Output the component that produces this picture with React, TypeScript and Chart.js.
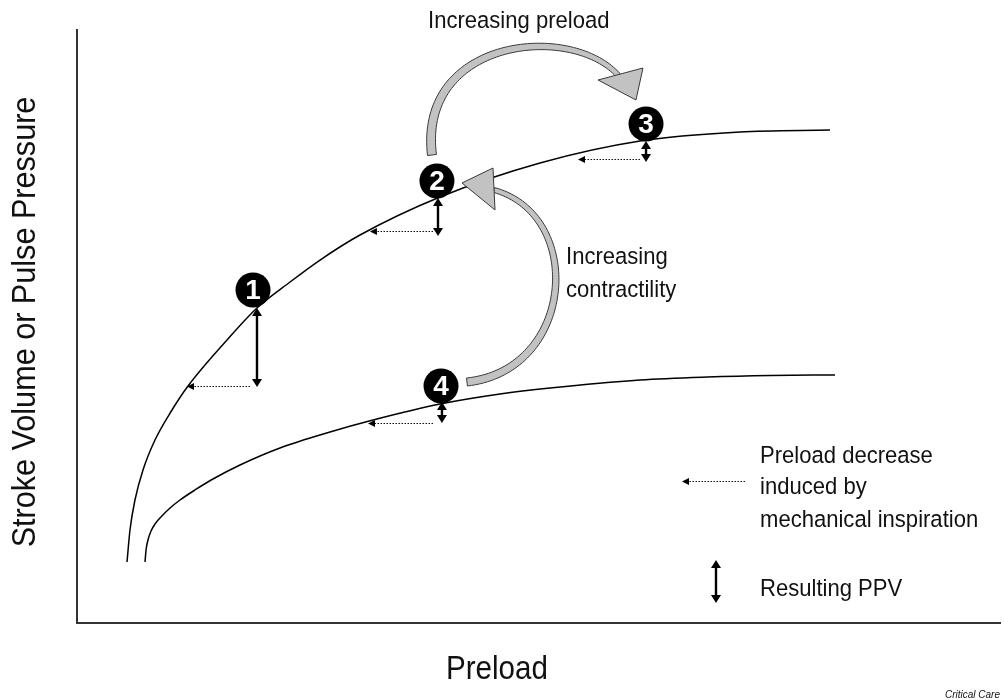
import React, { useEffect, useRef } from 'react';
import { Chart, registerables } from 'chart.js';

Chart.register(...registerables);

// ---- Data (axis units 0..100, no ticks shown) ----
const upperX = [5.42, 5.74, 6.28, 7.15, 8.45, 10.29, 12.03, 16.25, 19.5, 23.08, 26.33, 30.66, 39.33, 50.16, 61.0, 71.83, 81.58];
const upperY = [10.29, 15.68, 20.74, 25.8, 30.86, 35.92, 39.97, 47.72, 53.12, 57.5, 61.21, 65.43, 71.84, 77.57, 81.28, 82.8, 83.14];

const lowerX = [7.37, 7.48, 7.69, 8.02, 8.45, 8.99, 10.08, 11.16, 12.78, 14.73, 17.66, 21.99, 27.41, 32.07, 39.33, 45.83, 51.25, 61.0, 68.26, 75.08, 82.12];
const lowerY = [10.29, 12.31, 14.0, 15.51, 16.69, 17.71, 19.39, 20.74, 22.43, 24.28, 26.64, 29.51, 32.21, 34.23, 36.93, 38.62, 39.63, 40.98, 41.48, 41.74, 41.82];

const stateLabels = ['1', '2', '3', '4'];
const stateX = [19.07, 39.0, 61.65, 39.44];
const stateY = [56.16, 74.54, 84.15, 39.97];

// Resulting PPV (double arrows): x, top, bottom — last one is the legend key
const ppvX = [19.5, 39.11, 61.65, 39.54, 69.23];
const ppvTop = [53.12, 71.67, 81.28, 37.27, 10.62];
const ppvBottom = [39.8, 65.26, 77.74, 33.73, 3.37];

// Preload decrease (dotted arrows): start x, end x, y — last one is the legend key
const decFrom = [18.74, 38.57, 61.0, 38.57, 72.37];
const decTo = [11.92, 31.74, 54.28, 31.53, 65.55];
const decY = [39.97, 66.1, 78.25, 33.73, 23.95];

// Curved gray arrows (cubic bezier control points) and their heads
const preloadArrowX = [38.46, 36.94, 53.41, 58.61];
const preloadArrowY = [78.92, 98.5, 101.3, 92.41];
const preloadHeadX = [56.45, 61.32, 60.56];
const preloadHeadY = [91.57, 93.59, 88.2];

const contrArrowX = [42.25, 53.95, 55.04, 45.18];
const contrArrowY = [40.64, 42.66, 68.8, 73.02];
const contrHeadX = [45.07, 41.71, 45.29];
const contrHeadY = [76.73, 74.2, 69.65];

// Text annotations
const annoText = ['Increasing preload', 'Increasing', 'contractility', 'Preload decrease', 'induced by', 'mechanical inspiration', 'Resulting PPV'];
const annoX = [38.03, 52.98, 52.98, 74.0, 74.0, 74.0, 74.0];
const annoY = [100.34, 60.54, 54.97, 26.98, 21.75, 16.19, 4.55];

const yTitle = 'Stroke Volume or Pulse Pressure';
const xTitle = 'Preload';
const credit = 'Critical Care';

const FONT = '"Liberation Sans", Arial, sans-serif';

function condensedText(ctx: CanvasRenderingContext2D, text: string, x: number, y: number, sx: number) {
  ctx.save();
  ctx.translate(x, y);
  ctx.scale(sx, 1);
  ctx.fillText(text, 0, 0);
  ctx.restore();
}

function drawGrayArrow(ctx: CanvasRenderingContext2D, P: number[][], w0: number, w1: number, head: number[][]) {
  const N = 80;
  const left: number[][] = [];
  const right: number[][] = [];
  for (let i = 0; i <= N; i++) {
    const t = i / N;
    const u = 1 - t;
    const bx = u * u * u * P[0][0] + 3 * u * u * t * P[1][0] + 3 * u * t * t * P[2][0] + t * t * t * P[3][0];
    const by = u * u * u * P[0][1] + 3 * u * u * t * P[1][1] + 3 * u * t * t * P[2][1] + t * t * t * P[3][1];
    const dx = 3 * u * u * (P[1][0] - P[0][0]) + 6 * u * t * (P[2][0] - P[1][0]) + 3 * t * t * (P[3][0] - P[2][0]);
    const dy = 3 * u * u * (P[1][1] - P[0][1]) + 6 * u * t * (P[2][1] - P[1][1]) + 3 * t * t * (P[3][1] - P[2][1]);
    const len = Math.hypot(dx, dy) || 1;
    const nx = -dy / len;
    const ny = dx / len;
    const w = (w0 + (w1 - w0) * t) / 2;
    left.push([bx + nx * w, by + ny * w]);
    right.push([bx - nx * w, by - ny * w]);
  }
  ctx.save();
  ctx.beginPath();
  ctx.moveTo(left[0][0], left[0][1]);
  for (const p of left) ctx.lineTo(p[0], p[1]);
  for (let i = right.length - 1; i >= 0; i--) ctx.lineTo(right[i][0], right[i][1]);
  ctx.closePath();
  ctx.fillStyle = '#c2c2c2';
  ctx.fill();
  ctx.strokeStyle = '#3a3a3a';
  ctx.lineWidth = 1;
  ctx.stroke();
  ctx.beginPath();
  ctx.moveTo(head[0][0], head[0][1]);
  ctx.lineTo(head[1][0], head[1][1]);
  ctx.lineTo(head[2][0], head[2][1]);
  ctx.closePath();
  ctx.fillStyle = '#c2c2c2';
  ctx.fill();
  ctx.strokeStyle = '#3a3a3a';
  ctx.stroke();
  ctx.restore();
}

const overlayPlugin = {
  id: 'overlay',
  afterDatasetsDraw(chart: any) {
    const ctx: CanvasRenderingContext2D = chart.ctx;
    const xs = chart.scales.x;
    const ys = chart.scales.y;
    const X = (v: number) => xs.getPixelForValue(v);
    const Y = (v: number) => ys.getPixelForValue(v);

    ctx.save();

    // curved gray arrows
    drawGrayArrow(
      ctx,
      preloadArrowX.map((v, i) => [X(v), Y(preloadArrowY[i])]),
      9, 5,
      preloadHeadX.map((v, i) => [X(v), Y(preloadHeadY[i])])
    );
    drawGrayArrow(
      ctx,
      contrArrowX.map((v, i) => [X(v), Y(contrArrowY[i])]),
      8, 5,
      contrHeadX.map((v, i) => [X(v), Y(contrHeadY[i])])
    );

    // dotted preload-decrease arrows
    decFrom.forEach((xf, i) => {
      const x1 = X(xf);
      const x2 = X(decTo[i]);
      const y = Math.round(Y(decY[i])) + 0.5;
      const head = 7;
      ctx.save();
      ctx.strokeStyle = '#111';
      ctx.lineWidth = 1.2;
      ctx.setLineDash([1.5, 1.5]);
      ctx.beginPath();
      ctx.moveTo(x1, y);
      ctx.lineTo(x2 + head, y);
      ctx.stroke();
      ctx.setLineDash([]);
      ctx.fillStyle = '#000';
      ctx.beginPath();
      ctx.moveTo(x2, y);
      ctx.lineTo(x2 + head, y - 3.5);
      ctx.lineTo(x2 + head, y + 3.5);
      ctx.closePath();
      ctx.fill();
      ctx.restore();
    });

    // double vertical PPV arrows
    ppvX.forEach((xv, i) => {
      const x = X(xv);
      const y1 = Y(ppvTop[i]);
      const y2 = Y(ppvBottom[i]);
      const head = 8;
      const hw = 5;
      ctx.save();
      ctx.strokeStyle = '#000';
      ctx.fillStyle = '#000';
      ctx.lineWidth = 2.4;
      ctx.beginPath();
      ctx.moveTo(x, y1 + head - 1);
      ctx.lineTo(x, y2 - head + 1);
      ctx.stroke();
      ctx.beginPath();
      ctx.moveTo(x, y1);
      ctx.lineTo(x - hw, y1 + head);
      ctx.lineTo(x + hw, y1 + head);
      ctx.closePath();
      ctx.fill();
      ctx.beginPath();
      ctx.moveTo(x, y2);
      ctx.lineTo(x - hw, y2 - head);
      ctx.lineTo(x + hw, y2 - head);
      ctx.closePath();
      ctx.fill();
      ctx.restore();
    });

    // numbers inside state circles
    ctx.fillStyle = '#ffffff';
    ctx.font = 'bold 28px ' + FONT;
    ctx.textAlign = 'center';
    ctx.textBaseline = 'middle';
    stateLabels.forEach((s, i) => {
      ctx.fillText(s, X(stateX[i]), Y(stateY[i]) + 1);
    });

    // annotation texts
    ctx.fillStyle = '#111';
    ctx.font = '24.5px ' + FONT;
    ctx.textAlign = 'left';
    ctx.textBaseline = 'alphabetic';
    annoText.forEach((t, i) => {
      condensedText(ctx, t, X(annoX[i]), Y(annoY[i]), 0.9);
    });

    // axis titles
    const area = chart.chartArea;
    ctx.font = '34px ' + FONT;
    ctx.textAlign = 'center';
    ctx.save();
    ctx.translate(area.left - 42, (area.top + area.bottom) / 2 - 4.5);
    ctx.rotate(-Math.PI / 2);
    condensedText(ctx, yTitle, 0, 0, 0.9);
    ctx.restore();
    condensedText(ctx, xTitle, area.left + 420, area.bottom + 56, 0.87);

    ctx.font = 'italic 10px ' + FONT;
    ctx.textAlign = 'right';
    ctx.fillText(credit, chart.width - 4, chart.height - 2);

    ctx.restore();
  },
};

export default function App() {
  const canvasRef = useRef<HTMLCanvasElement | null>(null);

  useEffect(() => {
    const canvas = canvasRef.current;
    if (!canvas) return;
    const chart = new Chart(canvas, {
      type: 'scatter',
      data: {
        datasets: [
          {
            label: 'Normal contractility',
            data: upperX.map((x, i) => ({ x, y: upperY[i] })),
            showLine: true,
            borderColor: '#000',
            borderWidth: 1.5,
            pointRadius: 0,
            cubicInterpolationMode: 'monotone',
            fill: false,
          },
          {
            label: 'Reduced contractility',
            data: lowerX.map((x, i) => ({ x, y: lowerY[i] })),
            showLine: true,
            borderColor: '#000',
            borderWidth: 1.5,
            pointRadius: 0,
            cubicInterpolationMode: 'monotone',
            fill: false,
          },
          {
            label: 'States',
            data: stateX.map((x, i) => ({ x, y: stateY[i] })),
            showLine: false,
            pointRadius: 17.5,
            pointBackgroundColor: '#000',
            pointBorderColor: '#000',
            pointBorderWidth: 0,
          },
        ],
      },
      options: {
        animation: false,
        responsive: false,
        maintainAspectRatio: false,
        layout: { autoPadding: false, padding: { left: 77, top: 30, right: 4, bottom: 77 } },
        plugins: {
          legend: { display: false },
          tooltip: { enabled: false },
          title: { display: false },
        },
        scales: {
          x: {
            type: 'linear',
            min: 0,
            max: 100,
            ticks: { display: false },
            grid: { display: false, drawTicks: false },
            border: { display: true, color: '#333', width: 2 },
          },
          y: {
            type: 'linear',
            min: 0,
            max: 100,
            ticks: { display: false },
            grid: { display: false, drawTicks: false },
            border: { display: true, color: '#333', width: 2 },
          },
        },
      },
      plugins: [overlayPlugin],
    });
    return () => chart.destroy();
  }, []);

  return (
    <div style={{ position: 'absolute', left: 0, top: 0, width: 1004, height: 700, background: '#fff' }}>
      <canvas ref={canvasRef} width={1004} height={700} style={{ display: 'block' }} />
    </div>
  );
}
